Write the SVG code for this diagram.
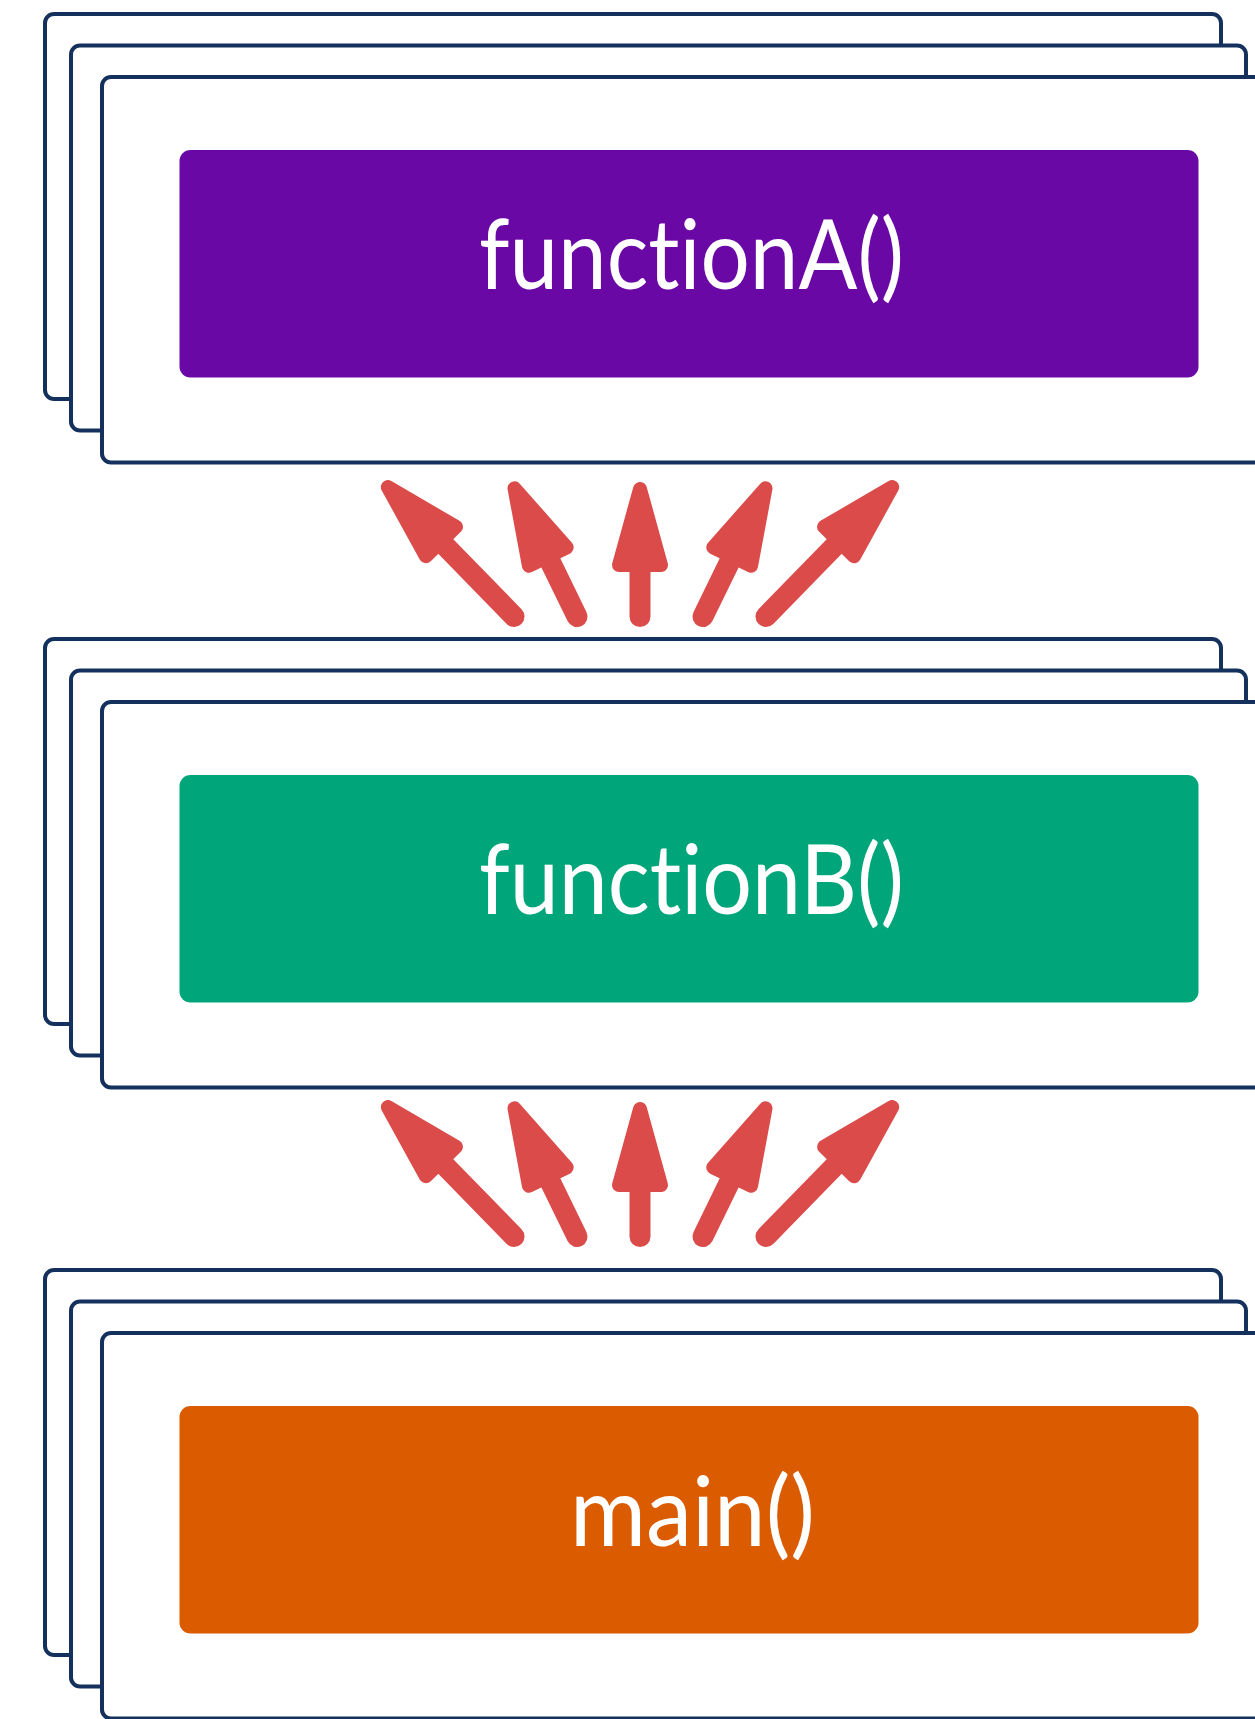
<svg xmlns="http://www.w3.org/2000/svg" width="1255" height="1719" viewBox="0 0 1255 1719">
  <style>
    .sheet { fill: #ffffff; stroke: #13315c; stroke-width: 4; }
    .label { font-family: Lato, "Open Sans", "Liberation Sans", sans-serif; font-size: 96px; fill: #ffffff; font-variant-ligatures: none; }
    .shaft { stroke: #db4b4a; stroke-width: 21; stroke-linecap: round; fill: none; }
  </style>
  <defs>
    <marker id="head" markerUnits="userSpaceOnUse" orient="auto" refX="0" refY="0" markerWidth="120" markerHeight="80" overflow="visible">
      <polygon points="0,-21 76,0 0,21" fill="#db4b4a" stroke="#db4b4a" stroke-width="14" stroke-linejoin="round"/>
    </marker>
  </defs>
  <rect width="1255" height="1719" fill="#ffffff"/>

  <g id="node-functionA">
    <rect class="sheet" x="45" y="14" width="1176" height="385" rx="9"/>
    <rect class="sheet" x="71" y="45.5" width="1175" height="385" rx="9"/>
    <rect class="sheet" x="102" y="77" width="1175" height="385.5" rx="9"/>
    <rect x="179.5" y="150" width="1019" height="227.5" rx="11" fill="#6a08a5"/>
    <text class="label" x="479" y="289" textLength="425" lengthAdjust="spacingAndGlyphs">functionA()</text>
  </g>

  <g id="node-functionB" transform="translate(0,625)">
    <rect class="sheet" x="45" y="14" width="1176" height="385" rx="9"/>
    <rect class="sheet" x="71" y="45.5" width="1175" height="385" rx="9"/>
    <rect class="sheet" x="102" y="77" width="1175" height="385.5" rx="9"/>
    <rect x="179.5" y="150" width="1019" height="227.5" rx="11" fill="#00a679"/>
    <text class="label" x="479" y="289" textLength="425" lengthAdjust="spacingAndGlyphs">functionB()</text>
  </g>

  <g id="node-main" transform="translate(0,1256)">
    <rect class="sheet" x="45" y="14" width="1176" height="385" rx="9"/>
    <rect class="sheet" x="71" y="45.5" width="1175" height="385" rx="9"/>
    <rect class="sheet" x="102" y="77" width="1175" height="385.5" rx="9"/>
    <rect x="179.5" y="150" width="1019" height="227.5" rx="11" fill="#da5b00"/>
    <text class="label" x="570" y="290" textLength="245" lengthAdjust="spacingAndGlyphs">main()</text>
  </g>

  <g id="connectors">
    <g id="calls-B-to-A">
      <line class="shaft" x1="514" y1="616.5" x2="440.9" y2="541.5" marker-end="url(#head)"/>
      <line class="shaft" x1="577" y1="616.5" x2="547.8" y2="556.6" marker-end="url(#head)"/>
      <line class="shaft" x1="640" y1="616.5" x2="640" y2="565" marker-end="url(#head)"/>
      <line class="shaft" x1="703" y1="616.5" x2="732.2" y2="556.6" marker-end="url(#head)"/>
      <line class="shaft" x1="766" y1="616.5" x2="839.1" y2="541.5" marker-end="url(#head)"/>
    </g>
    <g id="calls-main-to-B" transform="translate(0,620)">
      <line class="shaft" x1="514" y1="616.5" x2="440.9" y2="541.5" marker-end="url(#head)"/>
      <line class="shaft" x1="577" y1="616.5" x2="547.8" y2="556.6" marker-end="url(#head)"/>
      <line class="shaft" x1="640" y1="616.5" x2="640" y2="565" marker-end="url(#head)"/>
      <line class="shaft" x1="703" y1="616.5" x2="732.2" y2="556.6" marker-end="url(#head)"/>
      <line class="shaft" x1="766" y1="616.5" x2="839.1" y2="541.5" marker-end="url(#head)"/>
    </g>
  </g>
</svg>
